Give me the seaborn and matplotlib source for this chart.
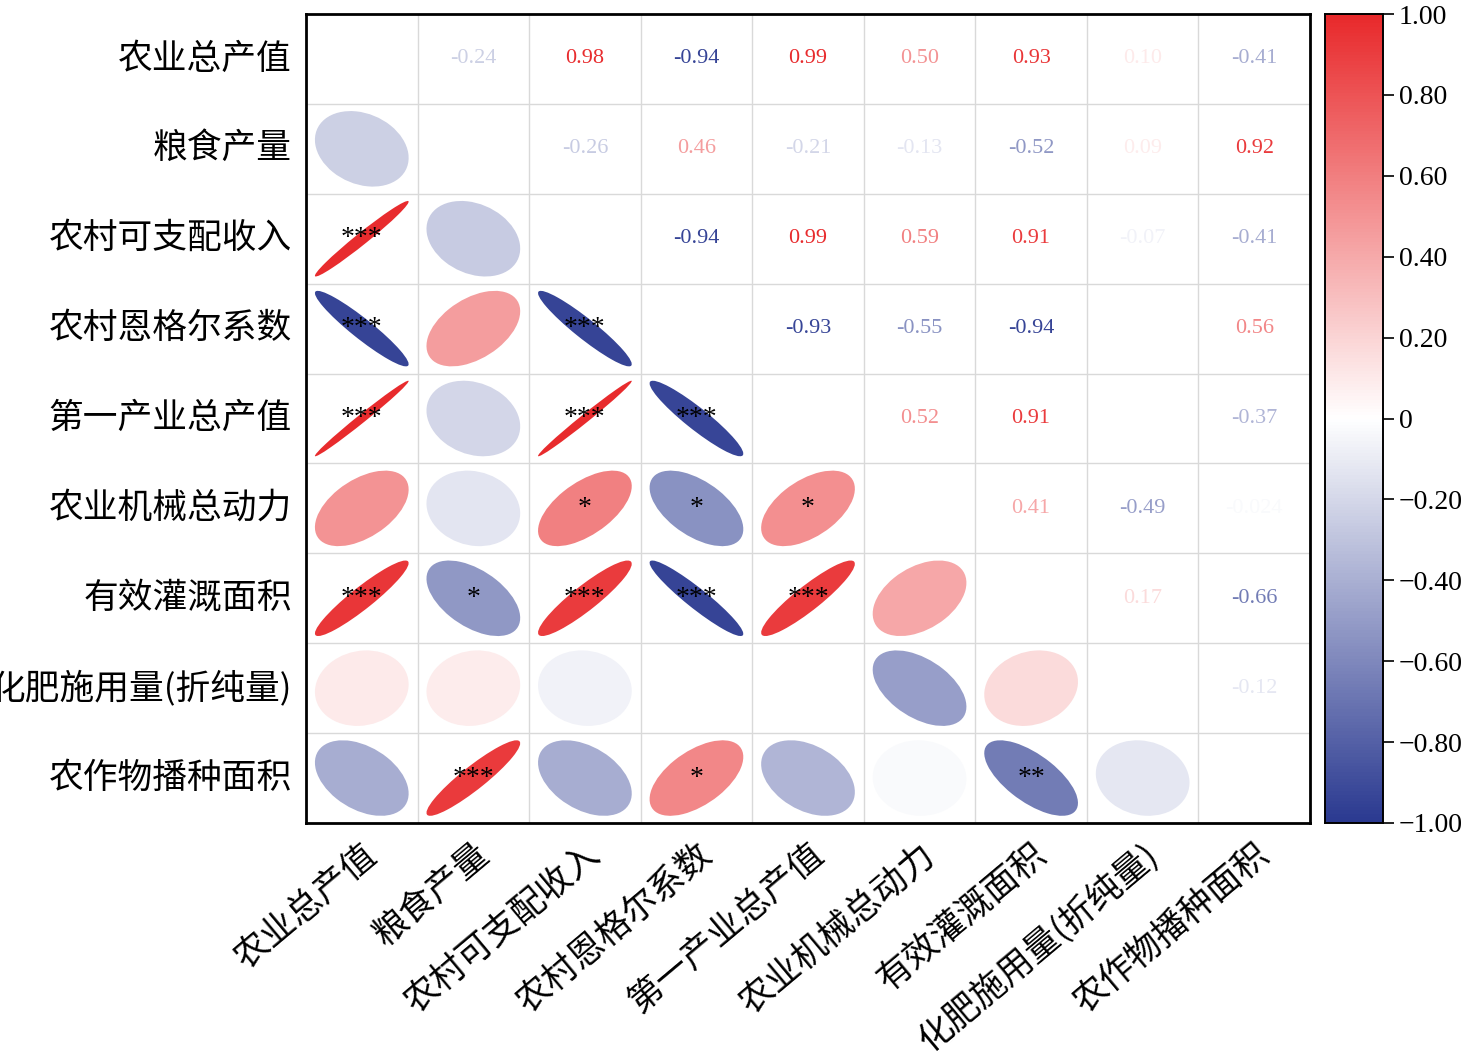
import numpy as np
import pandas as pd
import matplotlib
matplotlib.use("Agg")
import matplotlib.pyplot as plt
import seaborn as sns
from matplotlib.patches import Ellipse
from matplotlib.colors import LinearSegmentedColormap

labels = ["农业总产值", "粮食产量", "农村可支配收入", "农村恩格尔系数", "第一产业总产值",
          "农业机械总动力", "有效灌溉面积", "化肥施用量(折纯量)", "农作物播种面积"]

# upper triangle correlations (row i, col j>i); missing = not shown
upper = {
    (0, 1): -0.24, (0, 2): 0.98, (0, 3): -0.94, (0, 4): 0.99, (0, 5): 0.50, (0, 6): 0.93, (0, 7): 0.10, (0, 8): -0.41,
    (1, 2): -0.26, (1, 3): 0.46, (1, 4): -0.21, (1, 5): -0.13, (1, 6): -0.52, (1, 7): 0.09, (1, 8): 0.92,
    (2, 3): -0.94, (2, 4): 0.99, (2, 5): 0.59, (2, 6): 0.91, (2, 7): -0.07, (2, 8): -0.41,
    (3, 4): -0.93, (3, 5): -0.55, (3, 6): -0.94, (3, 8): 0.56,
    (4, 5): 0.52, (4, 6): 0.91, (4, 8): -0.37,
    (5, 6): 0.41, (5, 7): -0.49, (5, 8): -0.024,
    (6, 7): 0.17, (6, 8): -0.66,
    (7, 8): -0.12,
}
stars = {(2, 0): "***", (3, 0): "***", (3, 2): "***", (4, 0): "***", (4, 2): "***", (4, 3): "***",
         (5, 2): "*", (5, 3): "*", (5, 4): "*",
         (6, 0): "***", (6, 1): "*", (6, 2): "***", (6, 3): "***", (6, 4): "***",
         (8, 1): "***", (8, 3): "*", (8, 6): "**"}

n = len(labels)
mat = np.full((n, n), np.nan)
for (i, j), v in upper.items():
    mat[i, j] = v
    mat[j, i] = v
df = pd.DataFrame(mat, index=labels, columns=labels)

cmap = LinearSegmentedColormap.from_list(
    "rb", [(0, "#2a3990"), (0.5, "#ffffff"), (1, "#e8292b")])

plt.rcParams["font.family"] = ["Liberation Serif", "Noto Sans CJK SC"]
plt.rcParams["axes.unicode_minus"] = True

fig = plt.figure(figsize=(14.73, 10.54), dpi=100)
ax = fig.add_axes([306 / 1473, 1 - 823 / 1054, 1004 / 1473, 809 / 1054])
cax = fig.add_axes([1325 / 1473, 1 - 823 / 1054, 58 / 1473, 809 / 1054])

sns.heatmap(df, mask=np.ones_like(mat, dtype=bool), cmap=cmap, vmin=-1, vmax=1,
            ax=ax, cbar_ax=cax, square=False)

for k in range(1, n):
    ax.axhline(k, color="#d9d9d9", lw=1)
    ax.axvline(k, color="#d9d9d9", lw=1)

for i in range(n):
    for j in range(n):
        v = mat[i, j]
        if np.isnan(v):
            continue
        col = cmap((v + 1) / 2)
        if j > i:
            ax.text(j + 0.5, i + 0.5, f"{v:.2f}" if abs(v) >= 0.05 else f"{v:.3f}",
                    ha="center", va="center", color=col, fontsize=16)
        else:
            r = abs(v)
            a = 0.42 * np.sqrt(1 + r) * 2
            b = 0.42 * np.sqrt(1 - r) * 2
            ang = -45 if v > 0 else 45
            ax.add_patch(Ellipse((j + 0.5, i + 0.5), a, b, angle=ang, color=col, lw=0))
            if (i, j) in stars:
                ax.text(j + 0.5, i + 0.5, stars[(i, j)], ha="center", va="center",
                        fontsize=20, color="black")

for s in ax.spines.values():
    s.set_visible(True)
    s.set_linewidth(2)
ax.tick_params(length=0, pad=10)
ax.set_yticklabels(labels, rotation=0, fontsize=25, family=["Noto Sans CJK SC"])
ax.set_xticklabels(labels, rotation=40, ha="right", rotation_mode="anchor", fontsize=25,
                   family=["Noto Sans CJK SC"])

ticks = [1, 0.8, 0.6, 0.4, 0.2, 0, -0.2, -0.4, -0.6, -0.8, -1]
cax.set_yticks(ticks)
cax.set_yticklabels(["0" if t == 0 else f"{t:.2f}".replace("-", "\u2212") for t in ticks], fontsize=20)
cax.tick_params(length=8, width=1.2)
for s in cax.spines.values():
    s.set_visible(True)
    s.set_linewidth(1.2)

fig.savefig("out.png", dpi=100)
